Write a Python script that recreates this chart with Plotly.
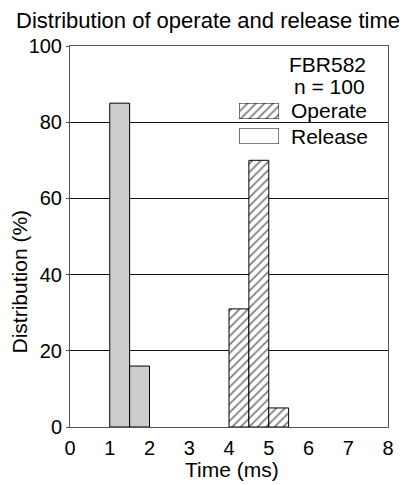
import plotly.graph_objects as go

# ---- data ----
bin_width = 0.5
release_bin_left = [1.0, 1.5]
release_pct = [85, 16]
operate_bin_left = [4.0, 4.5, 5.0]
operate_pct = [31, 70, 5]
x_ticks = [0, 1, 2, 3, 4, 5, 6, 7, 8]
y_ticks = [0, 20, 40, 60, 80, 100]
title_text = "Distribution of operate and release time"
legend_header = ["FBR582", "n = 100"]
legend_names = ["Operate", "Release"]

FONT = "Liberation Sans, Arial, sans-serif"
W, H = 406, 485
L, R, T, B = 70, 15, 46, 58
PW, PH = W - L - R, H - T - B


def px_x(p):
    return (p - L) / PW


def px_y(p):
    return (H - B - p) / PH


hatch = dict(shape="/", size=6, solidity=0.3, fgcolor="black", bgcolor="white")

fig = go.Figure()
fig.add_trace(go.Bar(
    x=[b + bin_width / 2 for b in release_bin_left], y=release_pct, width=bin_width,
    marker=dict(color="#cccccc", line=dict(color="black", width=1)),
    name="Release", showlegend=False))
fig.add_trace(go.Bar(
    x=[b + bin_width / 2 for b in operate_bin_left], y=operate_pct, width=bin_width,
    marker=dict(color="white", pattern=hatch, line=dict(color="black", width=1)),
    name="Operate", showlegend=False))

# legend swatches on small overlay axes
sw = [(241, 281, 103, 119), (241, 281, 128, 144)]
for i, (x0, x1, y0, y1) in enumerate(sw):
    ax = i + 2
    marker = (dict(color="white", pattern=hatch, line=dict(color="black", width=1))
              if i == 0 else dict(color="white", line=dict(color="black", width=1)))
    fig.add_trace(go.Bar(x=[0], y=[1], width=1, marker=marker, showlegend=False,
                         hoverinfo="skip", xaxis=f"x{ax}", yaxis=f"y{ax}"))
    fig.update_layout(**{
        f"xaxis{ax}": dict(domain=[px_x(x0), px_x(x1)], range=[-0.5, 0.5], visible=False,
                           anchor=f"y{ax}", fixedrange=True),
        f"yaxis{ax}": dict(domain=[px_y(y1), px_y(y0)], range=[0, 1], visible=False,
                           anchor=f"x{ax}", fixedrange=True),
    })
    fig.add_annotation(text=legend_names[i], x=px_x(291), y=px_y((y0 + y1) / 2),
                       xref="paper", yref="paper", xanchor="left", yanchor="middle",
                       showarrow=False, font=dict(family=FONT, size=21, color="black"))

fig.add_annotation(text=legend_header[0], x=px_x(371), y=px_y(64), xref="paper", yref="paper",
                   xanchor="right", yanchor="middle", showarrow=False,
                   font=dict(family=FONT, size=21, color="black"))
fig.add_annotation(text=legend_header[1], x=px_x(370), y=px_y(87), xref="paper", yref="paper",
                   xanchor="right", yanchor="middle", showarrow=False,
                   font=dict(family=FONT, size=21, color="black"))

# axis titles
fig.add_annotation(text="Time (ms)", x=px_x(234), y=px_y(469), xref="paper", yref="paper",
                   xanchor="center", yanchor="middle", showarrow=False,
                   font=dict(family=FONT, size=21, color="black"))
fig.add_annotation(text="Distribution (%)", x=px_x(19), y=px_y(281), xref="paper", yref="paper",
                   xanchor="center", yanchor="middle", textangle=-90, showarrow=False,
                   font=dict(family=FONT, size=21, color="black"))

fig.update_layout(
    width=W, height=H,
    margin=dict(l=L, r=R, t=T, b=B),
    paper_bgcolor="white", plot_bgcolor="white",
    barmode="overlay",
    title=dict(text=title_text, x=208 / W, xanchor="center", xref="container",
               y=1 - 20 / H, yref="container", yanchor="middle",
               font=dict(family=FONT, size=22, color="black")),
    xaxis=dict(range=[0, 8], tickvals=x_ticks, ticktext=[str(v) for v in x_ticks],
               showgrid=False, zeroline=False, showline=True, mirror=True,
               linecolor="#555", linewidth=1, ticks="", ticklabelstandoff=3,
               tickfont=dict(family=FONT, size=20, color="black"), fixedrange=True),
    yaxis=dict(range=[0, 100], tickvals=y_ticks, showgrid=True, gridcolor="#111", gridwidth=1,
               zeroline=False, showline=True, mirror=True, linecolor="#555", linewidth=1,
               ticks="outside", ticklen=3, tickcolor="#555",
               layer="above traces",
               tickfont=dict(family=FONT, size=20, color="black"), fixedrange=True),
)

fig.write_html("out.html", config={"displayModeBar": False},
               post_script="document.body.style.margin='0';")
